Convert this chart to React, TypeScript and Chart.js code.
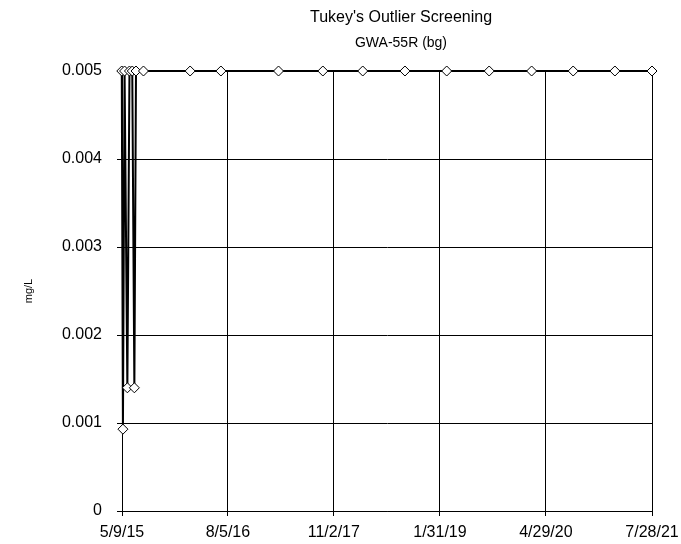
import { useEffect, useRef } from "react";
import { Chart, registerables } from "chart.js";

Chart.register(...registerables);

const titleText = "Tukey's Outlier Screening";
const subtitleText = "GWA-55R (bg)";
const yAxisLabel = "mg/L";

const sampleDates = [
  "2015-04-30", "2015-05-08", "2015-05-13", "2015-05-20", "2015-06-01",
  "2015-06-10", "2015-06-22", "2015-07-01", "2015-07-08", "2015-08-09",
  "2016-02-25", "2016-07-06", "2017-03-10", "2017-09-16", "2018-03-06",
  "2018-09-03", "2019-03-01", "2019-08-30", "2020-02-28", "2020-08-24",
  "2021-02-19", "2021-07-28",
];
const concentrations = [
  0.005, 0.005, 0.00093, 0.005, 0.0014,
  0.005, 0.005, 0.0014, 0.005, 0.005,
  0.005, 0.005, 0.005, 0.005, 0.005,
  0.005, 0.005, 0.005, 0.005, 0.005,
  0.005, 0.005,
];
const xTickLabels = ["5/9/15", "8/5/16", "11/2/17", "1/31/19", "4/29/20", "7/28/21"];
const yTickValues = [0, 0.001, 0.002, 0.003, 0.004, 0.005];

const DAY = 86400000;
const isoToDay = (s: string) => {
  const [y, m, d] = s.split("-").map(Number);
  return Date.UTC(y, m - 1, d) / DAY;
};
const mdyToDay = (s: string) => {
  const [m, d, y] = s.split("/").map(Number);
  return Date.UTC(2000 + y, m - 1, d) / DAY;
};
const dayToMdy = (v: number) => {
  const dt = new Date(Math.round(v) * DAY);
  return `${dt.getUTCMonth() + 1}/${dt.getUTCDate()}/${String(dt.getUTCFullYear() % 100).padStart(2, "0")}`;
};

const FONT = "'Liberation Sans', Arial, sans-serif";

const titlePlugin = {
  id: "customTitles",
  afterDraw(chart: any) {
    const ctx = chart.ctx;
    ctx.save();
    ctx.fillStyle = "#000";
    ctx.textAlign = "center";
    ctx.textBaseline = "middle";
    ctx.font = `16px ${FONT}`;
    ctx.fillText(titleText, 401, 18);
    ctx.font = `14px ${FONT}`;
    ctx.fillText(subtitleText, 401, 43);
    ctx.restore();
  },
};

export default function App() {
  const ref = useRef<HTMLCanvasElement>(null);

  useEffect(() => {
    document.body.style.margin = "0";
    const xTicks = xTickLabels.map(mdyToDay);
    const points = sampleDates.map((d, i) => ({ x: isoToDay(d), y: concentrations[i] }));
    const chart = new Chart(ref.current!, {
      type: "line",
      data: {
        datasets: [
          {
            data: points,
            borderColor: "#000",
            borderWidth: 2,
            pointStyle: "rectRot",
            pointRadius: 5,
            pointBackgroundColor: "#fff",
            pointBorderColor: "#000",
            pointBorderWidth: 1,
            tension: 0,
            clip: false as any,
          },
        ],
      },
      options: {
        animation: false,
        responsive: false,
        maintainAspectRatio: false,
        layout: { padding: { left: 22, right: 29, top: 71, bottom: 0 } },
        plugins: {
          legend: { display: false },
          tooltip: { enabled: false },
          title: { display: false },
        },
        scales: {
          x: {
            type: "linear",
            min: xTicks[0],
            max: xTicks[xTicks.length - 1],
            afterBuildTicks: (axis: any) => {
              axis.ticks = xTicks.map((v) => ({ value: v }));
            },
            afterFit: (axis: any) => {
              axis.height = 33;
              axis.paddingLeft = 0;
              axis.paddingRight = 0;
            },
            ticks: {
              autoSkip: false,
              maxRotation: 0,
              padding: 7,
              color: "#000",
              font: { family: FONT, size: 16 },
              callback: (v: any) => dayToMdy(Number(v)),
            },
            grid: { color: "#000", lineWidth: 1, tickLength: 5, drawTicks: true },
            border: { color: "#000", width: 1 },
          },
          y: {
            type: "linear",
            min: 0,
            max: 0.005,
            afterBuildTicks: (axis: any) => {
              axis.ticks = yTickValues.map((v) => ({ value: v }));
            },
            afterFit: (axis: any) => {
              axis.width = 100;
              axis.paddingTop = 0;
              axis.paddingBottom = 0;
            },
            ticks: {
              padding: 15,
              color: "#000",
              font: { family: FONT, size: 16 },
              callback: (v: any) => (Number(v) === 0 ? "0" : Number(v).toFixed(3)),
            },
            grid: { color: "#000", lineWidth: 1, tickLength: 5, drawTicks: true },
            border: { color: "#000", width: 1 },
            title: {
              display: true,
              text: yAxisLabel,
              color: "#000",
              font: { family: FONT, size: 11 },
              padding: 0,
            },
          },
        },
      },
      plugins: [titlePlugin],
    });
    return () => chart.destroy();
  }, []);

  return (
    <div style={{ width: 681, height: 544, background: "#fff" }}>
      <canvas ref={ref} width={681} height={544} style={{ display: "block" }} />
    </div>
  );
}
